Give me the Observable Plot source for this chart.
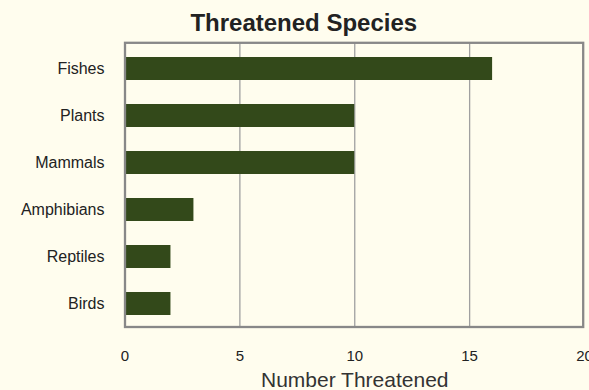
<!DOCTYPE html>
<html>
<head>
<meta charset="utf-8">
<script src="https://cdn.jsdelivr.net/npm/d3@7"></script>
<script src="https://cdn.jsdelivr.net/npm/@observablehq/plot@0.6"></script>
<style>
  html, body { margin: 0; padding: 0; background: #FFFDEE; }
  svg { display: block; }
</style>
</head>
<body>
<div id="chart"></div>
<script>
const categories = ["Fishes", "Plants", "Mammals", "Amphibians", "Reptiles", "Birds"];
const counts = [16, 10, 10, 3, 2, 2];
const xTicks = [0, 5, 10, 15, 20];
const gridTicks = [5, 10, 15];
const title = "Threatened Species";
const xLabel = "Number Threatened";

const data = categories.map((c, i) => ({species: c, count: counts[i]}));

const chart = Plot.plot({
  width: 589,
  height: 390,
  marginLeft: 124.5,
  marginRight: 5,
  marginTop: 42.3,
  marginBottom: 63.5,
  style: {background: "#FFFDEE", fontFamily: "'Liberation Sans', Arial, sans-serif", fontSize: "15px", color: "#222", overflow: "visible"},
  x: {domain: [0, 20], ticks: xTicks, label: null},
  y: {domain: categories, paddingInner: 0.514, paddingOuter: 0.2285, insetTop: 2.7, label: null},
  marks: [
    Plot.gridX(gridTicks, {stroke: "#a0a0a0", strokeOpacity: 1, strokeWidth: 1.3}),
    Plot.barX(data, {x: "count", y: "species", fill: "#33491A"}),
    Plot.frame({stroke: "#888", strokeWidth: 2.3, insetRight: 1.3}),
    Plot.axisX(xTicks, {tickSize: 0, tickPadding: 23, fontSize: 15, fill: "#222", label: null}),
    Plot.axisY({tickSize: 0, tickPadding: 20.5, fontSize: 16, fill: "#222", label: null}),
    Plot.text([title], {frameAnchor: "top", lineAnchor: "top", dx: -51, dy: -29.3, fontSize: 24, fontWeight: "bold", fill: "#222"}),
    Plot.text([xLabel], {frameAnchor: "bottom", lineAnchor: "top", dy: 45.3, fontSize: 21, fill: "#333"})
  ]
});
document.getElementById("chart").appendChild(chart);
</script>
</body>
</html>
